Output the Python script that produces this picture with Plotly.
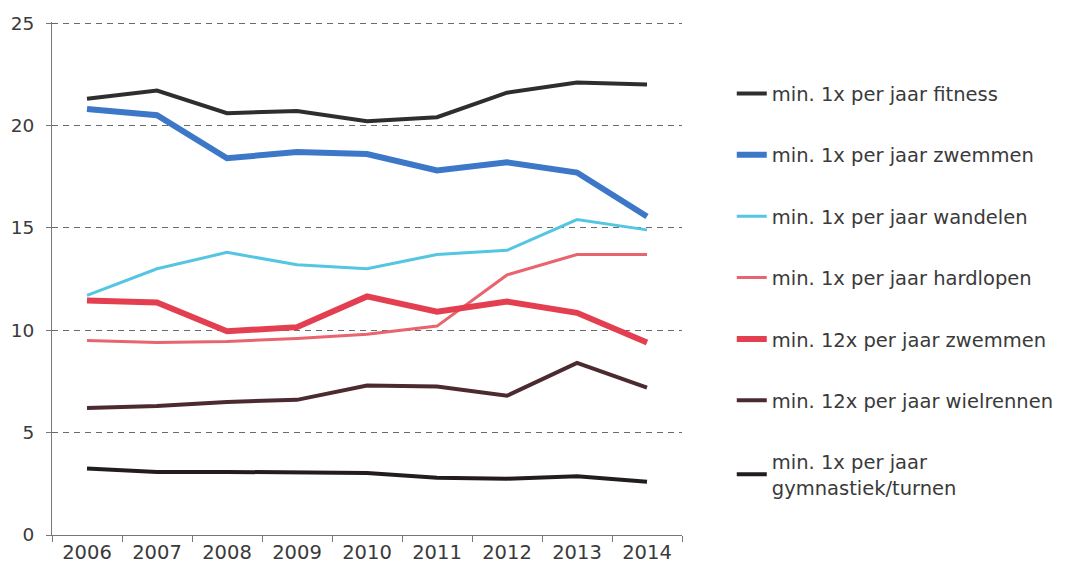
import plotly.graph_objects as go

years = ["2006", "2007", "2008", "2009", "2010", "2011", "2012", "2013", "2014"]

fitness_1x = [21.3, 21.7, 20.6, 20.7, 20.2, 20.4, 21.6, 22.1, 22.0]
zwemmen_1x = [20.8, 20.5, 18.4, 18.7, 18.6, 17.8, 18.2, 17.7, 15.55]
wandelen_1x = [11.7, 13.0, 13.8, 13.2, 13.0, 13.7, 13.9, 15.4, 14.9]
hardlopen_1x = [9.5, 9.4, 9.45, 9.6, 9.8, 10.2, 12.7, 13.7, 13.7]
zwemmen_12x = [11.45, 11.35, 9.95, 10.15, 11.65, 10.9, 11.4, 10.85, 9.4]
wielrennen_12x = [6.2, 6.3, 6.5, 6.6, 7.3, 7.25, 6.8, 8.4, 7.2]
gymnastiek_1x = [3.25, 3.08, 3.08, 3.06, 3.03, 2.8, 2.75, 2.87, 2.6]

series = [
    ("min. 1x per jaar fitness", fitness_1x, "#2e2e2e", 4),
    ("min. 1x per jaar zwemmen", zwemmen_1x, "#3d78c8", 6),
    ("min. 1x per jaar wandelen", wandelen_1x, "#55c6e2", 3),
    ("min. 1x per jaar hardlopen", hardlopen_1x, "#e8646e", 3),
    ("min. 12x per jaar zwemmen", zwemmen_12x, "#e33f50", 6),
    ("min. 12x per jaar wielrennen", wielrennen_12x, "#4b2b30", 4),
    ("min. 1x per jaar<br>gymnastiek/turnen", gymnastiek_1x, "#221c1f", 4),
]

fig = go.Figure()
for i, (name, vals, color, w) in enumerate(series):
    fig.add_trace(go.Scatter(
        x=years, y=vals, mode="lines", name=name,
        line=dict(color=color, width=w),
        legendgroup=f"g{i}",
    ))

fig.update_layout(
    width=1065, height=569,
    margin=dict(l=44, r=391, t=14, b=41.5, autoexpand=False),
    paper_bgcolor="white", plot_bgcolor="white",
    font=dict(family="DejaVu Sans", color="#3a3a3a"),
    showlegend=True,
    legend=dict(
        x=1.079, y=0.898, xanchor="left", yanchor="top",
        font=dict(size=19.5, color="#3a3a3a"),
        tracegroupgap=33,
        bgcolor="rgba(0,0,0,0)",
    ),
    xaxis=dict(
        type="category",
        range=[-0.5, 8.5],
        showgrid=False,
        showline=True, linecolor="#777777", linewidth=1,
        ticks="outside", ticklen=6, tickcolor="#777777",
        tickson="boundaries",
        tickfont=dict(size=19.5, color="#3a3a3a"),
        zeroline=False,
    ),
    yaxis=dict(
        range=[0, 25.05],
        tickvals=[0, 5, 10, 15, 20, 25],
        showgrid=True, gridcolor="#6a6a6a", griddash="6px,5px", gridwidth=1.3,
        showline=True, linecolor="#777777", linewidth=1,
        zeroline=False,
        tickfont=dict(size=18.5, color="#3a3a3a"),
        ticks="outside", ticklen=5, tickcolor="#777777",
        ticklabelstandoff=8,
    ),
)

fig.write_html("out.html")
